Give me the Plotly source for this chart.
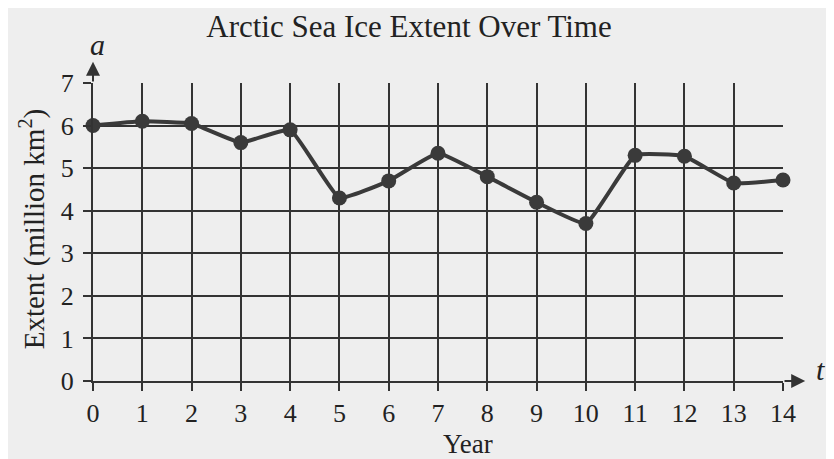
import plotly.graph_objects as go

years = list(range(15))
extent = [6.0, 6.1, 6.05, 5.6, 5.9, 4.3, 4.7, 5.35, 4.8, 4.2, 3.7, 5.3, 5.28, 4.65, 4.72]
x_ticks = list(range(15))
y_ticks = list(range(8))

ink = "#333333"
txt = "#222222"
serif = "Liberation Serif, Times New Roman, serif"

fig = go.Figure()
fig.add_scatter(
    x=years,
    y=extent,
    mode="lines+markers",
    line=dict(color="#3a3a3a", width=4, shape="spline", smoothing=0.35),
    marker=dict(color="#3a3a3a", size=15),
    cliponaxis=False,
    showlegend=False,
)

axis_common = dict(
    showgrid=True,
    gridcolor=ink,
    gridwidth=1.5,
    showline=True,
    linecolor=ink,
    linewidth=2,
    ticks="outside",
    ticklen=8,
    tickwidth=1.5,
    tickcolor=ink,
    zeroline=False,
    tickfont=dict(family=serif, size=26, color=txt),
)

fig.update_xaxes(range=[0, 14], tickvals=x_ticks, ticklabelstandoff=0, **axis_common)
fig.update_yaxes(range=[0, 7], tickvals=y_ticks, ticklabelstandoff=4, **axis_common)

# axis arrows
fig.add_annotation(
    x=14.45, y=0, ax=14, ay=0, xref="x", yref="y", axref="x", ayref="y",
    text="", showarrow=True, arrowhead=2, arrowsize=1.4, arrowwidth=2, arrowcolor=ink,
)
fig.add_annotation(
    x=0, y=7.5, ax=0, ay=7, xref="x", yref="y", axref="x", ayref="y",
    text="", showarrow=True, arrowhead=2, arrowsize=1.4, arrowwidth=2, arrowcolor=ink,
)
fig.add_annotation(
    x=0.006, y=1.128, xref="paper", yref="paper", xanchor="center", yanchor="middle",
    text="<i>a</i>", showarrow=False, font=dict(family=serif, size=30, color=txt),
)
fig.add_annotation(
    x=1.054, y=0.04, xref="paper", yref="paper", xanchor="center", yanchor="middle",
    text="<i>t</i>", showarrow=False, font=dict(family=serif, size=30, color=txt),
)

# axis titles
fig.add_annotation(
    x=-0.088, y=0.51, xref="paper", yref="paper", xanchor="center", yanchor="middle",
    text="Extent (million km<sup>2</sup>)", textangle=-90, showarrow=False,
    font=dict(family=serif, size=29, color=txt),
)
fig.add_annotation(
    x=0.543, y=-0.211, xref="paper", yref="paper", xanchor="center", yanchor="middle",
    text="Year", showarrow=False, font=dict(family=serif, size=27, color=txt),
)

# page body adds an 8px offset, so the figure is drawn 8px smaller
fig.update_layout(
    width=826,
    height=451,
    margin=dict(l=85, r=51, t=75, b=78),
    paper_bgcolor="#eeeeee",
    plot_bgcolor="#eeeeee",
    title=dict(
        text="Arctic Sea Ice Extent Over Time",
        x=401 / 826, xanchor="center", y=1 - 18 / 451, yanchor="middle",
        font=dict(family=serif, size=31, color=txt),
    ),
)

fig.write_html("out.html")
